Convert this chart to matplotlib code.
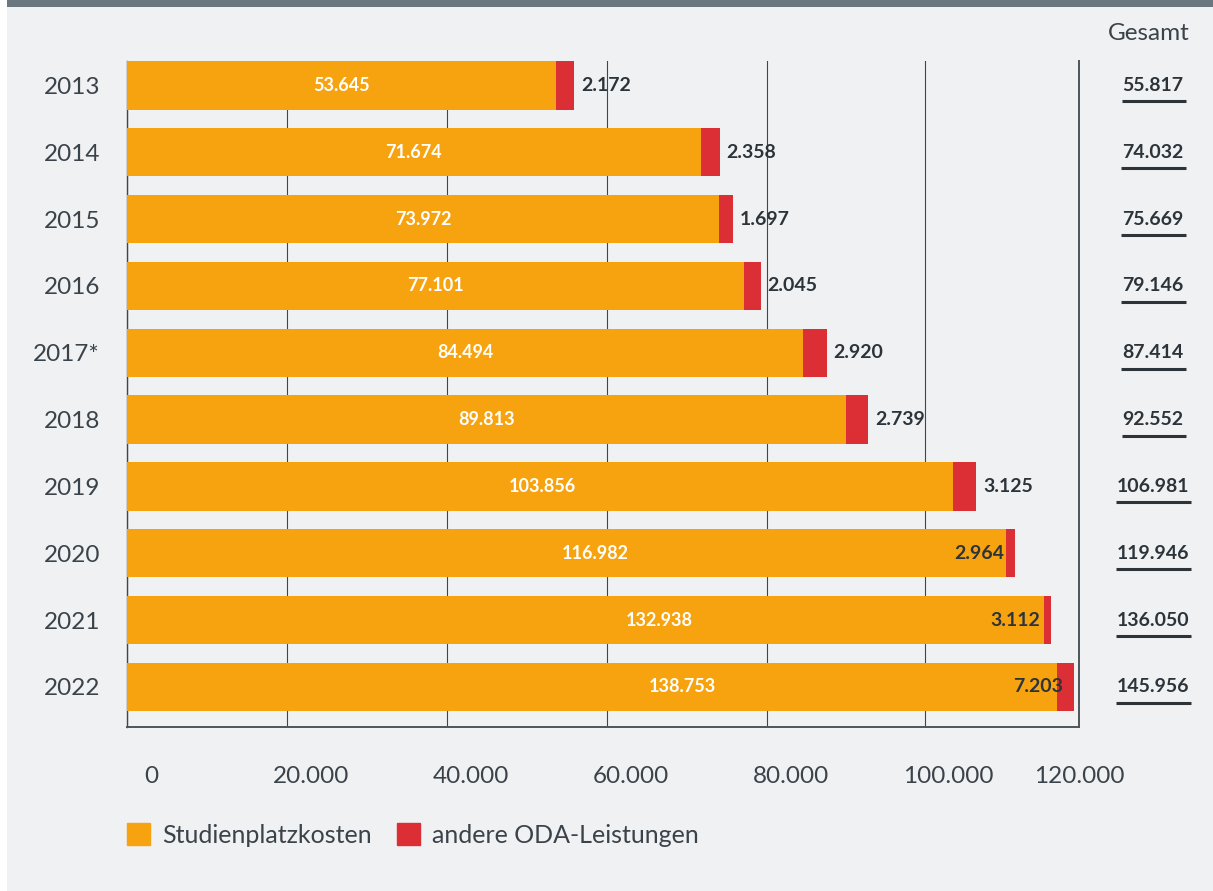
import numpy as np
import matplotlib
matplotlib.use('Agg')
import matplotlib.pyplot as plt
from matplotlib.patches import Rectangle
from matplotlib.lines import Line2D
from matplotlib.transforms import ScaledTranslation, blended_transform_factory


years = ['2013', '2014', '2015', '2016', '2017*', '2018', '2019', '2020', '2021', '2022']
studienplatz = [53645, 71674, 73972, 77101, 84494, 89813, 103856, 116982, 132938, 138753]
andere_oda = [2172, 2358, 1697, 2045, 2920, 2739, 3125, 2964, 3112, 7203]
gesamt = [55817, 74032, 75669, 79146, 87414, 92552, 106981, 119946, 136050, 145956]
tick_values = [0, 20000, 40000, 60000, 80000, 100000]
tick_labels = ['0', '20.000', '40.000', '60.000', '80.000', '100.000']
last_tick_label = '120.000'
legend_labels = ['Studienplatzkosten', 'andere ODA-Leistungen']

ORANGE = '#f6a30f'
RED = '#dc2e35'
BG = '#f0f1f3'
BAND = '#6b767e'
TEXT = '#3b434a'
DARK = '#2c343a'

# the original squeezes the long bars towards the frame, so the axis is
# linear up to 95k and compressed after that
DATA_KNOTS = [0, 95000, 107000, 120000, 150000]
DISP_KNOTS = [0, 760, 849, 888, 955]


def fwd(v):
    return np.interp(v, DATA_KNOTS, DISP_KNOTS)


def inv(d):
    return np.interp(d, DISP_KNOTS, DATA_KNOTS)


def de(v):
    return f"{v:,}".replace(',', '.')


def px(p):
    # pixels -> points at dpi 100
    return p * 0.72


def main():
    plt.rcParams['font.family'] = ['Lato', 'DejaVu Sans']
    W, H = 1213, 891
    fig = plt.figure(figsize=(W / 100, H / 100), dpi=100, facecolor='white')
    fig.patches.append(Rectangle((7 / W, 0), 1 - 7 / W, 1 - 7 / H, transform=fig.transFigure,
                                 facecolor=BG, edgecolor='none', zorder=-10))
    fig.patches.append(Rectangle((7 / W, 1 - 7 / H), 1 - 7 / W, 7 / H, transform=fig.transFigure,
                                 facecolor=BAND, edgecolor='none', zorder=-10))

    ax = fig.add_axes([127 / W, 164 / H, (1079 - 127) / W, 666 / H])
    ax.set_facecolor('none')
    ax.set_xscale('function', functions=(fwd, inv))
    ax.set_xlim(0, 148400)
    ax.set_ylim(9.6, -0.365)

    y = np.arange(len(years))
    ax.barh(y, studienplatz, height=0.725, color=ORANGE, zorder=3)
    ax.barh(y, andere_oda, left=studienplatz, height=0.725, color=RED, zorder=3)

    ax.spines['top'].set_visible(False)
    ax.spines['left'].set_color('#3f474d')
    ax.spines['left'].set_linewidth(1.0)
    for s in ['bottom', 'right']:
        ax.spines[s].set_color('#4d555b')
        ax.spines[s].set_linewidth(1.4)

    pad_px = 39
    ax.set_xticks(tick_values, tick_labels)
    ax.grid(axis='x', color='#3f474d', linewidth=0.8, zorder=1)
    ax.tick_params(axis='x', length=0, pad=px(pad_px), labelsize=17.5, labelcolor=TEXT)
    for lab in ax.get_xticklabels():
        lab.set_transform(lab.get_transform() + ScaledTranslation(0.24, 0, fig.dpi_scale_trans))
    ax.text(1.0, -pad_px / 666, last_tick_label, transform=ax.transAxes, ha='center', va='top',
            fontsize=17.5, color=TEXT)

    ax.set_yticks(y, years)
    ax.tick_params(axis='y', length=0, pad=px(27), labelsize=17.5, labelcolor=TEXT)

    for i in range(len(years)):
        ax.text(studienplatz[i] / 2, i, de(studienplatz[i]), ha='center', va='center',
                color='white', fontsize=13, fontweight='bold', zorder=5)
        if gesamt[i] > 110000:
            ax.annotate(de(andere_oda[i]), (gesamt[i], i), xytext=(px(-11), 0),
                        textcoords='offset points', ha='right', va='center',
                        color=DARK, fontsize=14, fontweight='bold', zorder=5)
        else:
            ax.annotate(de(andere_oda[i]), (gesamt[i], i), xytext=(px(7), 0),
                        textcoords='offset points', ha='left', va='center',
                        color=DARK, fontsize=14, fontweight='bold', zorder=5)

    fig.text(1190 / W, 1 - 40 / H, 'Gesamt', ha='right', va='baseline', fontsize=17.5, color=TEXT)

    tr = blended_transform_factory(fig.transFigure, ax.transData)
    totals = []
    for i in range(len(years)):
        totals.append(fig.text(1153 / W, i, de(gesamt[i]), transform=tr, ha='center', va='center',
                               fontsize=14, fontweight='bold', color=DARK))

    handles = [Rectangle((0, 0), 1, 1, color=ORANGE), Rectangle((0, 0), 1, 1, color=RED)]
    fig.legend(handles, legend_labels, loc='center left', bbox_to_anchor=(127 / W, 1 - 835 / H),
               ncol=2, frameon=False, fontsize=18, labelcolor=TEXT, borderpad=0,
               borderaxespad=0, handlelength=0.92, handleheight=0.92, handletextpad=0.48,
               columnspacing=1.0)

    fig.canvas.draw()
    inv_fig = fig.transFigure.inverted()
    for i, t in enumerate(totals):
        bb = t.get_window_extent()
        yc = ax.transData.transform((0, i))[1] - 16
        (x0, y0), (x1, _) = inv_fig.transform([(bb.x0 - 1, yc), (bb.x1 + 2, yc)])
        fig.add_artist(Line2D([x0, x1], [y0, y0], color=DARK, linewidth=2.2,
                              solid_capstyle='butt', transform=fig.transFigure))

    fig.savefig('out.png', dpi=100, facecolor=fig.get_facecolor())
    plt.close(fig)


if __name__ == "__main__":
    main()
